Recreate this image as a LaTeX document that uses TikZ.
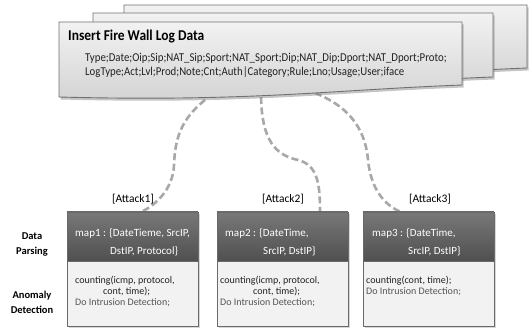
\documentclass[tikz,border=0pt]{standalone}
\usepackage{fontspec}
\setmainfont{Carlito}
\newfontfamily\condfont{Carlito}[FakeStretch=0.9]
\usetikzlibrary{shadows,calc}
\definecolor{docedge}{HTML}{707070}
\definecolor{docfillA}{HTML}{F2F2F2}
\definecolor{docfillB}{HTML}{D3D3D3}
\definecolor{headA}{HTML}{787878}
\definecolor{headB}{HTML}{505050}
\definecolor{bodyfill}{HTML}{F2F2F2}
\definecolor{boxedge}{HTML}{6A6A6A}
\definecolor{linkgray}{HTML}{A8A8A8}
\definecolor{softtext}{HTML}{555555}
\definecolor{darktext}{HTML}{222222}
\tikzset{
  docshape/.style={draw=docedge, line width=0.9pt, top color=docfillA, bottom color=docfillB,
    drop shadow={shadow xshift=1.5pt, shadow yshift=-2.5pt, opacity=0.45}},
  headbox/.style={draw=boxedge, line width=0.8pt, top color=headA, bottom color=headB,
    minimum width=131pt, minimum height=49pt, inner sep=0pt,
    drop shadow={shadow xshift=1.5pt, shadow yshift=-1.5pt, opacity=0.3}},
  bodybox/.style={draw=boxedge, line width=0.8pt, fill=bodyfill,
    minimum width=131pt, minimum height=65pt, inner sep=0pt,
    drop shadow={shadow xshift=1.5pt, shadow yshift=-1.5pt, opacity=0.3}},
  link/.style={draw=linkgray, line width=2.6pt, dash pattern=on 7pt off 3.5pt},
  headtxt/.style={anchor=base west, inner sep=0pt, text=white, font=\fontsize{11}{13}\selectfont},
  bodytxt/.style={anchor=base west, inner sep=0pt, text=darktext, font=\fontsize{10}{12}\selectfont},
  softtxt/.style={bodytxt, text=softtext},
  atklabel/.style={inner sep=0pt, font=\fontsize{11.5}{13}\selectfont},
  sidelabel/.style={inner sep=0pt, align=center, font=\bfseries\fontsize{10.5}{15}\selectfont},
  doctitle/.style={anchor=base west, inner sep=0pt, font=\condfont\bfseries\fontsize{15}{17}\selectfont},
  doctxt/.style={anchor=base west, inner sep=0pt, text=darktext, font=\condfont\fontsize{12}{14}\selectfont}
}
\begin{document}
\begin{tikzpicture}[x=1pt,y=-1pt]
\useasboundingbox[fill=white] (0,0) rectangle (530,329);

% anchor points on the front document
\coordinate (d1) at (205,100);
\coordinate (d2) at (261,97);
\coordinate (d3) at (315,93);

% boxes
\node[headbox] (h1) at (132.5,236.5) {};
\node[bodybox, anchor=north] (b1) at (h1.south) {};
\node[headbox] (h2) at (282.5,236.5) {};
\node[bodybox, anchor=north] (b2) at (h2.south) {};
\node[headbox] (h3) at (428.5,236.5) {};
\node[bodybox, anchor=north] (b3) at (h3.south) {};

\coordinate (e1) at ($(h1.north)+(9.5,0)$);
\coordinate (e2) at ($(h2.north)+(37.5,0)$);
\coordinate (e3) at ($(h3.north)+(-28.5,0)$);

% connectors
\draw[link] (d1) .. controls (180,120) and (175,140) .. (174,165) .. controls (173,190) and (155,205) .. (e1);
\draw[link] (d2) .. controls (262,140) and (275,155) .. (298,160) .. controls (318,165) and (320,185) .. (e2);
\draw[link] (d3) .. controls (345,105) and (365,125) .. (368,160) .. controls (371,190) and (385,205) .. (e3);

% redraw header tops over connector ends
\draw[boxedge, line width=0.8pt] (h1.north west) -- (h1.north east);
\draw[boxedge, line width=0.8pt] (h2.north west) -- (h2.north east);
\draw[boxedge, line width=0.8pt] (h3.north west) -- (h3.north east);

% stacked documents
\path[docshape] (124,5) -- (527,5) -- (527,68) .. controls (400,73) and (320,84) .. (124,80) -- cycle;
\path[docshape] (93,13) -- (493,13) -- (493,77) .. controls (360,82) and (280,94) .. (93,89) -- cycle;
\path[docshape] (59,22) -- (462,22) -- (462,85) .. controls (330,90) and (250,102) .. (59,97) -- cycle;

\node[doctitle] (title) at (68,40.5) {Insert Fire Wall Log Data};
\node[doctxt] (f1) at (85,62) {Type;Date;Oip;Sip;NAT\_Sip;Sport;NAT\_Sport;Dip;NAT\_Dip;Dport;NAT\_Dport;Proto;};
\node[doctxt] (f2) at (85,76) {LogType;Act;Lvl;Prod;Note;Cnt;Auth|Category;Rule;Lno;Usage;User;iface};

% attack labels
\node[atklabel] (a1) at (133,199) {[Attack1]};
\node[atklabel] (a2) at (283,199) {[Attack2]};
\node[atklabel] (a3) at (430,199) {[Attack3]};

% box texts
\node[headtxt] (h1a) at (75,236) {map1 : \{DateTieme, SrcIP,};
\node[headtxt] (h1b) at (110,254) {DstIP, Protocol\}};
\node[bodytxt] (b1a) at (75,283.5) {counting(icmp, protocol,};
\node[bodytxt] (b1b) at (103,294.5) {cont, time);};
\node[softtxt] (b1c) at (75,305.5) {Do Intrusion Detection;};

\node[headtxt] (h2a) at (225,236) {map2 : \{DateTime,};
\node[headtxt] (h2b) at (263,254) {SrcIP, DstIP\}};
\node[bodytxt] (b2a) at (220,283.5) {counting(icmp, protocol,};
\node[bodytxt] (b2b) at (253,294.5) {cont, time);};
\node[softtxt] (b2c) at (220,305.5) {Do Intrusion Detection;};

\node[headtxt] (h3a) at (372,236) {map3 : \{DateTime,};
\node[headtxt] (h3b) at (408,254) {SrcIP, DstIP\}};
\node[bodytxt] (b3a) at (366,283.5) {counting(cont, time);};
\node[softtxt] (b3b) at (366,294.5) {Do Intrusion Detection;};

% side labels
\node[sidelabel] (dp) at (32,244) {Data\\Parsing};
\node[sidelabel] (ad) at (32,302) {Anomaly\\Detection};
\end{tikzpicture}
\end{document}
